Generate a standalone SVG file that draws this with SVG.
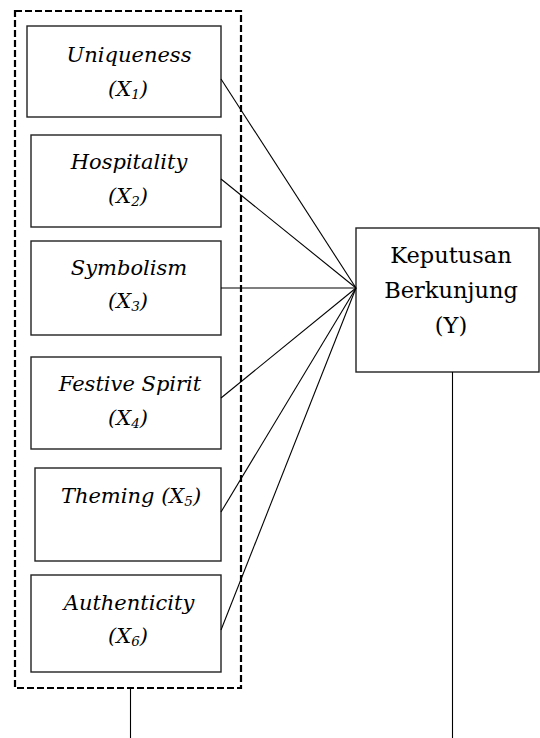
<svg xmlns="http://www.w3.org/2000/svg" width="540" height="738" viewBox="0 0 540 738">
<style>
.box{fill:#fff;stroke:#222;stroke-width:1.4}
.grp{fill:none;stroke:#000;stroke-width:2.2;stroke-dasharray:7 3}
.ln{stroke:#000;stroke-width:1.1;fill:none}
.it{font-family:"DejaVu Serif","Liberation Serif",serif;font-style:italic;font-size:21px;fill:#000;text-anchor:middle}
.rg{font-family:"DejaVu Serif","Liberation Serif",serif;font-size:22.5px;fill:#000;text-anchor:middle}
.sub{font-size:13.5px}
</style>
<rect width="540" height="738" fill="#fff"/>
<g id="group-x">
<rect class="grp" x="15" y="11" width="226" height="677"/>
</g>
<g id="x1">
<rect class="box" x="27" y="26" width="194" height="91"/>
<text class="it" x="129" y="62">Uniqueness</text>
<text class="it" x="128" y="96">(X<tspan class="sub" dy="3">1</tspan><tspan dy="-3">)</tspan></text>
</g>
<g id="x2">
<rect class="box" x="31" y="135" width="190" height="92"/>
<text class="it" x="129" y="169">Hospitality</text>
<text class="it" x="128" y="203">(X<tspan class="sub" dy="3">2</tspan><tspan dy="-3">)</tspan></text>
</g>
<g id="x3">
<rect class="box" x="31" y="241" width="190" height="94"/>
<text class="it" x="129" y="275">Symbolism</text>
<text class="it" x="128" y="308">(X<tspan class="sub" dy="3">3</tspan><tspan dy="-3">)</tspan></text>
</g>
<g id="x4">
<rect class="box" x="31" y="357" width="190" height="92"/>
<text class="it" x="130" y="391">Festive Spirit</text>
<text class="it" x="128" y="425">(X<tspan class="sub" dy="3">4</tspan><tspan dy="-3">)</tspan></text>
</g>
<g id="x5">
<rect class="box" x="35" y="468" width="186" height="93"/>
<text class="it" x="131" y="503">Theming (X<tspan class="sub" dy="3">5</tspan><tspan dy="-3">)</tspan></text>
</g>
<g id="x6">
<rect class="box" x="31" y="575" width="190" height="97"/>
<text class="it" x="129" y="610">Authenticity</text>
<text class="it" x="128" y="643">(X<tspan class="sub" dy="3">6</tspan><tspan dy="-3">)</tspan></text>
</g>
<g id="y">
<rect class="box" x="356" y="228" width="183" height="144"/>
<text class="rg" x="451" y="263">Keputusan</text>
<text class="rg" x="451" y="298">Berkunjung</text>
<text class="rg" x="451" y="333">(Y)</text>
</g>
<g id="connectors">
<line class="ln" x1="221" y1="79" x2="356" y2="288"/>
<line class="ln" x1="221" y1="179" x2="356" y2="288"/>
<line class="ln" x1="221" y1="288" x2="356" y2="288"/>
<line class="ln" x1="221" y1="398" x2="356" y2="288"/>
<line class="ln" x1="221" y1="512" x2="356" y2="288"/>
<line class="ln" x1="221" y1="630" x2="356" y2="288"/>
<line class="ln" x1="130.5" y1="689" x2="130.5" y2="738"/>
<line class="ln" x1="452.5" y1="372" x2="452.5" y2="738"/>
</g>
</svg>
